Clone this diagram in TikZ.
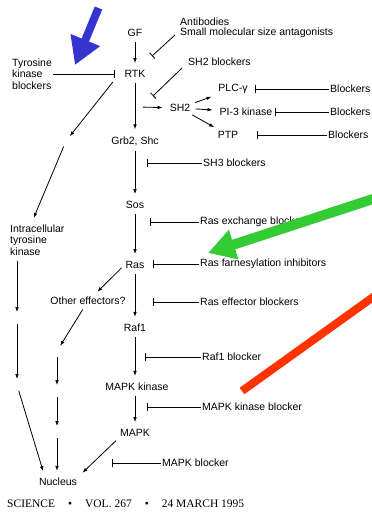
\documentclass[tikz,border=0pt]{standalone}
\usepackage{fontspec}
\setmainfont{Liberation Sans}
\newfontfamily\footfont{Liberation Serif}
\usetikzlibrary{arrows.meta}
\usetikzlibrary{calc}
\definecolor{markblue}{RGB}{52,52,208}
\definecolor{markgreen}{RGB}{52,204,52}
\definecolor{markred}{RGB}{255,51,0}

\begin{document}
\begin{tikzpicture}[x=1pt,y=-1pt,
 lbl/.style={font=\fontsize{10.5}{11.5}\selectfont,inner sep=1pt},
 blk/.style={lbl,anchor=west},
 act/.style={line width=0.8pt,-{Latex[length=5pt,width=3.6pt]},shorten <=4pt,shorten >=6pt},
 inh/.style={line width=0.8pt,-{Bar[width=8pt]}}]
 \useasboundingbox (0,0) rectangle (372,512);
 \fill[white] (0,0) rectangle (372,512);

 % main chain
 \node[lbl] (gf) at (135,33) {GF};
 \node[lbl] (rtk) at (135,74) {RTK};
 \node[lbl] (grb) at (135,141) {Grb2, Shc};
 \node[lbl] (sos) at (135,205) {Sos};
 \node[lbl] (ras) at (135,265) {Ras};
 \node[lbl] (raf) at (135,328) {Raf1};
 \node[lbl] (mkk) at (137,387) {MAPK kinase};
 \node[lbl] (mapk) at (135,433) {MAPK};
 \node[lbl] (nuc) at (58,482) {Nucleus};

 \node[lbl] (sh2) at (180,108) {SH2};
 \node[lbl] (plc) at (233,89) {PLC-γ};
 \node[lbl] (pik) at (246,112) {PI-3 kinase};
 \node[lbl] (ptp) at (228,135) {PTP};
 \node[blk,align=left] (itk) at (9,240) {Intracellular\\tyrosine\\kinase};
 \node[lbl] (oth) at (88,301) {Other effectors?};

 % blockers
 \node[blk,align=left,font=\fontsize{10.5}{10}\selectfont] (ab) at (179,28) {Antibodies\\Small molecular size antagonists};
 \node[blk,align=left] (tkb) at (11,74) {Tyrosine\\kinase\\blockers};
 \node[blk] (sh2b) at (187,62) {SH2 blockers};
 \node[blk] (blk1) at (329,89) {Blockers};
 \node[blk] (blk2) at (329,112) {Blockers};
 \node[blk] (blk3) at (327,135) {Blockers};
 \node[blk] (sh3b) at (202,163) {SH3 blockers};
 \node[blk] (rexb) at (199,222) {Ras exchange blockers};
 \node[blk] (rfi) at (199,264) {Ras farnesylation inhibitors};
 \node[blk] (reb) at (199,302) {Ras effector blockers};
 \node[blk] (rafb) at (201,357) {Raf1 blocker};
 \node[blk] (mkkb) at (201,407) {MAPK kinase blocker};
 \node[blk] (mapkb) at (161,463) {MAPK blocker};

 \coordinate (tkbar) at (115,74);
 \coordinate (abbar) at (152,56);
 \coordinate (sh2bar) at (153,96);
 \coordinate (plcbar) at (255,89);
 \coordinate (pikbar) at (275,112);
 \coordinate (ptpbar) at (257,135);
 \coordinate (sh3bar) at (147,163);
 \coordinate (rexbar) at (150,222);
 \coordinate (rfibar) at (153,264);
 \coordinate (rebbar) at (153,302);
 \coordinate (rafbar) at (145,357);
 \coordinate (mkkbar) at (147,407);
 \coordinate (mapkbar) at (112,463);

 \draw[inh] (tkb) -- (tkbar);
 \draw[inh] ($(ab.west)+(-4,7)$) -- (abbar);
 \draw[inh] ($(sh2b.west)+(-5,6)$) -- (sh2bar);
 \draw[inh] (blk1) -- (plcbar);
 \draw[inh] (blk2) -- (pikbar);
 \draw[inh] (blk3) -- (ptpbar);
 \draw[inh] (sh3b) -- (sh3bar);
 \draw[inh] (rexb) -- (rexbar);
 \draw[inh] (rfi) -- (rfibar);
 \draw[inh] (reb) -- (rebbar);
 \draw[inh] (rafb) -- (rafbar);
 \draw[inh] (mkkb) -- (mkkbar);
 \draw[inh] (mapkb) -- (mapkbar);

 % signalling arrows
 \draw[act] (gf) -- (rtk);
 \draw[act] (rtk) -- (grb);
 \draw[act] (grb) -- (sos);
 \draw[act] (sos) -- (ras);
 \draw[act] (ras) -- (raf);
 \draw[act] (raf) -- (mkk.north -| raf);
 \draw[act] (mkk.south -| mapk) -- (mapk);
 \coordinate (rtksh) at (139,107);
 \draw[act] (rtksh) -- (sh2);
 \draw[act] (sh2) -- (plc);
 \draw[act] (sh2) -- (pik);
 \draw[act] (sh2) -- (ptp);
 \draw[act] (ras.west) -- (oth);
 \draw[act] (mapk.south west) -- (nuc.north east);

 \coordinate (rg) at (66,141);
 \draw[act] ([xshift=-8pt]rtk.south west) -- (rg);
 \draw[act,shorten <=6pt] (rg) -- ([xshift=-6pt]itk.north);

 \coordinate (lg1) at (17,318);
 \coordinate (lg2) at (17,385);
 \draw[act] (itk.south -| lg1) -- (lg1);
 \draw[act,shorten <=6pt] (lg1) -- (lg2);
 \draw[act,shorten <=6pt] (lg2) -- ([xshift=7pt]nuc.north west);

 \coordinate (mg1) at (57,351);
 \coordinate (mg2) at (57,391);
 \coordinate (mg3) at (57,432);
 \draw[act] (oth) -- (mg1);
 \draw[act,shorten <=6pt] (mg1) -- (mg2);
 \draw[act,shorten <=6pt] (mg2) -- (mg3);
 \draw[act,shorten <=6pt] (mg3) -- (mg3 |- nuc.north);

 \node[anchor=west,inner sep=0pt,font=\footfont\fontsize{11.5}{11.5}\selectfont] (foot) at (7,504)
  {SCIENCE\hspace{13pt}•\hspace{13pt}VOL. 267\hspace{13pt}•\hspace{13pt}24 MARCH 1995};

 %%%%%%%%%%%%%%%%%%%%%%%%%%%%%%%%%%%
 \coordinate (bluetail) at (98.5,8);
 \coordinate (bluetip) at (75,65);
 \draw[markblue,line width=8pt,-{Triangle[length=27pt,width=30pt]}] (bluetail) -- (bluetip);
 \coordinate (greentail) at (376,198);
 \coordinate (greentip) at (208,253);
 \draw[markgreen,line width=10pt,-{Triangle[length=27pt,width=29pt]}] (greentail) -- (greentip);
 \coordinate (redlo) at (242,391);
 \coordinate (redhi) at (376,295);
 \draw[markred,line width=8pt] (redlo) -- (redhi);
\end{tikzpicture}
\end{document}
